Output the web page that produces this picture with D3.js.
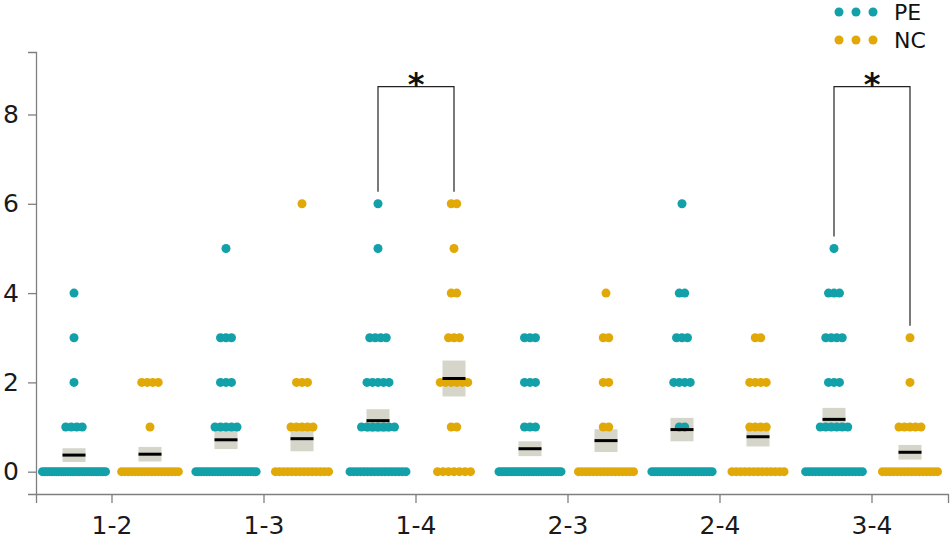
<!DOCTYPE html>
<html><head><meta charset="utf-8">
<script src="https://cdn.jsdelivr.net/npm/d3@7/dist/d3.min.js"></script>
<style>body{margin:0;background:#fff;}svg{display:block;font-family:"DejaVu Sans",sans-serif;}</style>
</head><body><svg id="c" width="950" height="540"></svg>
<script>
const categories = ["1-2","1-3","1-4","2-3","2-4","3-4"];
const groups = ["PE","NC"];
const yTicks = [0,2,4,6,8];
// counts of subjects per value (0..6) for each category
const peCounts = [
  [28,4,1,1,1,0,0],
  [23,5,3,3,0,1,0],
  [17,7,5,4,0,1,1],
  [26,3,3,3,0,0,0],
  [23,2,4,3,2,0,1],
  [18,6,3,4,3,1,0]
];
const ncCounts = [
  [18,1,4,0,0,0,0],
  [14,5,3,0,0,0,1],
  [7,2,6,3,2,1,2],
  [16,2,2,2,1,0,0],
  [13,4,4,2,0,0,0],
  [16,5,1,1,0,0,0]
];
const significant = [
  {cat:"1-4", label:"*"},
  {cat:"3-4", label:"*"}
];
const colors = {PE:"#12a0a9", NC:"#e1a908"};

const svg = d3.select("#c");
const x = d3.scaleBand().domain(categories).range([36,948]);
const xg = d3.scalePoint().domain(groups).range([-38,38]);
const y = d3.scaleLinear().domain([-0.5,9.4]).range([494,52]);

function expand(counts){ const v=[]; counts.forEach((c,val)=>{for(let i=0;i<c;i++)v.push(val);}); return v; }
function stats(v){ const n=v.length, m=d3.mean(v), sd=d3.deviation(v); return {m, sem: sd/Math.sqrt(n)}; }

const R = 4.5, SP = 5.5;
function rowOffsets(k){
  if(k<=1) return [0];
  const span = Math.min((k-1)*SP, 15.4+14.3*Math.log(k));
  return d3.range(k).map(i=> -span/2 + i*span/(k-1));
}

// axes
const yAxis = svg.append("g").attr("transform","translate(36,0)")
  .call(d3.axisLeft(y).tickValues(yTicks).tickSize(8).tickPadding(9));
const xAxis = svg.append("g").attr("transform","translate(0,494)")
  .call(d3.axisBottom(x).tickSize(9).tickPadding(13));
[yAxis,xAxis].forEach(a=>{
  a.select(".domain").attr("stroke","#7f7f7f").attr("stroke-width",1.3);
  a.selectAll(".tick line").attr("stroke","#7f7f7f").attr("stroke-width",1.3);
  a.selectAll(".tick text").attr("fill","#1a1a1a").style("font-size","25px").style("font-family","DejaVu Sans");
});

const data = [];
categories.forEach((c,ci)=>{
  data.push({cat:c, g:"PE", counts:peCounts[ci]});
  data.push({cat:c, g:"NC", counts:ncCounts[ci]});
});

data.forEach(d=>{
  const cx = x(d.cat)+x.bandwidth()/2 + xg(d.g);
  const st = stats(expand(d.counts));
  d.cx = cx; d.st = st;
  // SEM box
  svg.append("rect").attr("x",cx-11.5).attr("width",23)
    .attr("y",y(st.m+st.sem)).attr("height",y(st.m-st.sem)-y(st.m+st.sem))
    .attr("fill","#d5d5c9");
  // dots
  const pts=[];
  d.counts.forEach((k,val)=>{ if(k>0) rowOffsets(k).forEach(o=>pts.push({x:cx+o,v:val})); });
  svg.append("g").selectAll("circle").data(pts).join("circle")
    .attr("cx",p=>p.x).attr("cy",p=>y(p.v)).attr("r",R)
    .attr("fill",colors[d.g]);
  // mean line
  svg.append("line").attr("x1",cx-11.5).attr("x2",cx+11.5)
    .attr("y1",y(st.m)).attr("y2",y(st.m)).attr("stroke","#000").attr("stroke-width",3);
});

// significance brackets
const topV = 8.625;
significant.forEach(s=>{
  const pe = data.find(d=>d.cat===s.cat&&d.g==="PE");
  const nc = data.find(d=>d.cat===s.cat&&d.g==="NC");
  const maxPE = pe.counts.reduce((a,c,i)=>c>0?i:a,0);
  const maxNC = nc.counts.reduce((a,c,i)=>c>0?i:a,0);
  const path = d3.path();
  path.moveTo(pe.cx, y(maxPE)-12);
  path.lineTo(pe.cx, y(topV));
  path.lineTo(nc.cx, y(topV));
  path.lineTo(nc.cx, y(maxNC)-12);
  svg.append("path").attr("d",path.toString()).attr("fill","none").attr("stroke","#222").attr("stroke-width",1.2);
  svg.append("text").attr("x",(pe.cx+nc.cx)/2).attr("y",y(topV)+8)
    .attr("text-anchor","middle").style("font-size","32px").style("font-weight","bold").attr("fill","#111").text(s.label);
});

// legend
groups.forEach((g,i)=>{
  const ly = 12 + i*28;
  [839,856,873].forEach(lx=>svg.append("circle").attr("cx",lx).attr("cy",ly).attr("r",4.5).attr("fill",colors[g]));
  svg.append("text").attr("x",894).attr("y",ly+8).style("font-size","22px").attr("fill","#111").text(g);
});
</script></body></html>
